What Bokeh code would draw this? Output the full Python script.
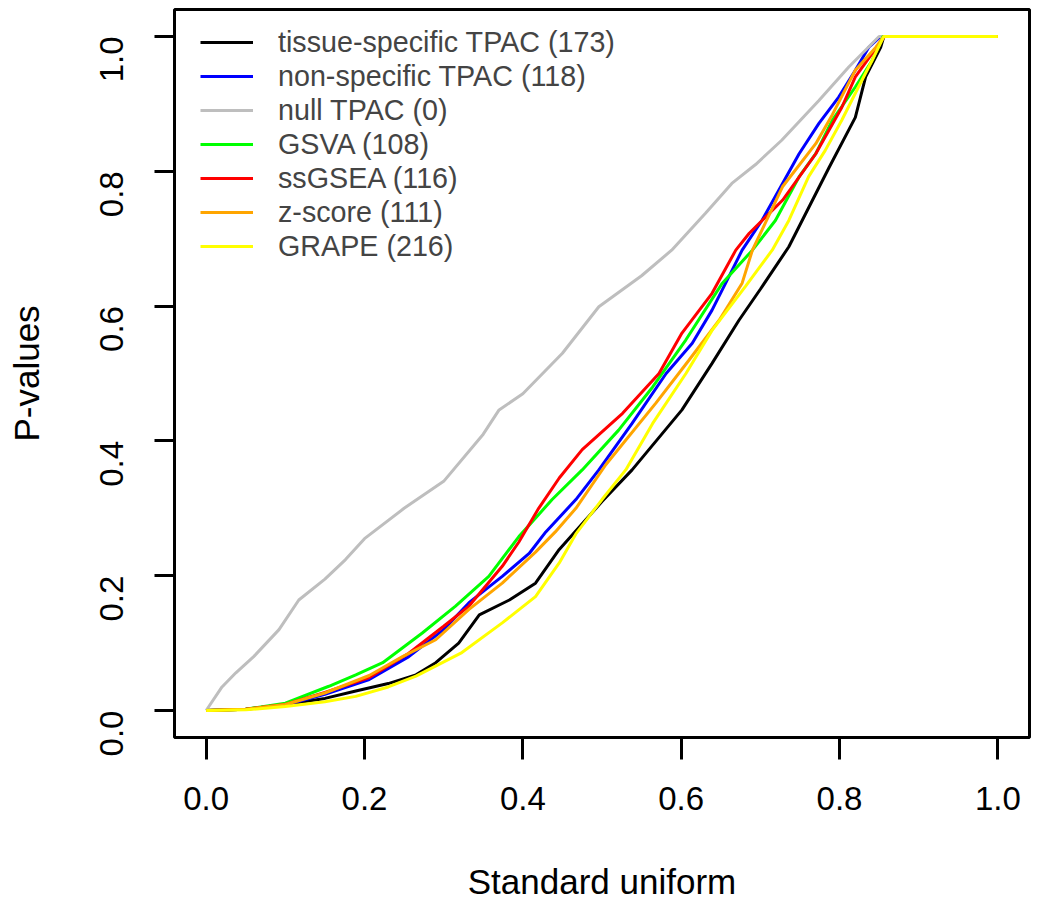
import math
from bokeh.plotting import figure
from bokeh.models import FixedTicker, Legend, LegendItem, Range1d
from bokeh.embed import file_html
from bokeh.resources import INLINE

# ---------------- data ----------------
series_names = ["tissue-specific TPAC (173)", "non-specific TPAC (118)", "null TPAC (0)",
                "GSVA (108)", "ssGSEA (116)", "z-score (111)", "GRAPE (216)"]
series_colors = ["#000000", "#0000FF", "#BEBEBE", "#00FF00", "#FF0000", "#FFA500", "#FFFF00"]

tissue_x = [0, 0.05, 0.1, 0.15, 0.189, 0.23, 0.265, 0.29, 0.319, 0.345, 0.383, 0.416, 0.446, 0.5,
            0.538, 0.601, 0.639, 0.673, 0.70, 0.736, 0.787, 0.82, 0.833, 0.852, 0.856, 1.0]
tissue_y = [0, 0.002, 0.009, 0.018, 0.029, 0.04, 0.053, 0.071, 0.1, 0.142, 0.164, 0.189, 0.239, 0.31,
            0.357, 0.446, 0.515, 0.579, 0.625, 0.688, 0.806, 0.88, 0.94, 0.984, 1.0, 1.0]

nonspec_x = [0, 0.05, 0.1, 0.15, 0.206, 0.256, 0.3, 0.332, 0.374, 0.408, 0.429, 0.467, 0.496, 0.538,
             0.581, 0.614, 0.639, 0.66, 0.677, 0.702, 0.749, 0.774, 0.799, 0.82, 0.837, 0.852, 1.0]
nonspec_y = [0, 0.002, 0.008, 0.024, 0.046, 0.08, 0.12, 0.16, 0.199, 0.233, 0.265, 0.313, 0.357, 0.426,
             0.5, 0.545, 0.594, 0.643, 0.683, 0.727, 0.826, 0.871, 0.91, 0.95, 0.984, 1.0, 1.0]

null_x = [0, 0.02, 0.0375, 0.06, 0.092, 0.117, 0.15, 0.176, 0.2, 0.25, 0.3, 0.35, 0.37, 0.4, 0.45,
          0.496, 0.55, 0.588, 0.631, 0.664, 0.694, 0.727, 0.774, 0.812, 0.85, 1.0]
null_y = [0, 0.035, 0.056, 0.08, 0.12, 0.164, 0.195, 0.224, 0.255, 0.3, 0.34, 0.41, 0.446, 0.47, 0.53,
          0.599, 0.645, 0.683, 0.738, 0.782, 0.81, 0.846, 0.905, 0.955, 1.0, 1.0]

gsva_x = [0, 0.05, 0.1, 0.155, 0.189, 0.223, 0.273, 0.315, 0.357, 0.395, 0.437, 0.475, 0.521, 0.564,
          0.606, 0.652, 0.69, 0.719, 0.749, 0.77, 0.791, 0.82, 0.841, 0.855, 1.0]
gsva_y = [0, 0.002, 0.011, 0.036, 0.053, 0.071, 0.115, 0.155, 0.199, 0.258, 0.313, 0.357, 0.416, 0.48,
          0.55, 0.634, 0.683, 0.727, 0.792, 0.826, 0.876, 0.925, 0.964, 1.0, 1.0]

ssgsea_x = [0, 0.05, 0.1, 0.15, 0.206, 0.256, 0.3, 0.332, 0.374, 0.395, 0.42, 0.446, 0.475, 0.526,
            0.572, 0.601, 0.639, 0.669, 0.686, 0.728, 0.77, 0.803, 0.82, 0.85, 0.857, 1.0]
ssgsea_y = [0, 0.002, 0.009, 0.027, 0.049, 0.085, 0.125, 0.155, 0.214, 0.25, 0.30, 0.345, 0.387, 0.441,
            0.5, 0.56, 0.619, 0.683, 0.708, 0.757, 0.826, 0.895, 0.94, 0.989, 1.0, 1.0]

zscore_x = [0, 0.05, 0.1, 0.15, 0.206, 0.248, 0.29, 0.332, 0.374, 0.416, 0.441, 0.467, 0.505, 0.568,
            0.61, 0.648, 0.677, 0.69, 0.728, 0.77, 0.791, 0.82, 0.846, 0.856, 1.0]
zscore_y = [0, 0.002, 0.009, 0.026, 0.052, 0.08, 0.105, 0.15, 0.189, 0.235, 0.265, 0.3, 0.365, 0.456,
            0.52, 0.579, 0.634, 0.683, 0.777, 0.841, 0.884, 0.95, 0.984, 1.0, 1.0]

grape_x = [0, 0.05, 0.1, 0.15, 0.189, 0.23, 0.265, 0.323, 0.374, 0.416, 0.446, 0.467, 0.5, 0.53,
           0.564, 0.606, 0.639, 0.681, 0.715, 0.736, 0.761, 0.782, 0.803, 0.824, 0.841, 0.856, 1.0]
grape_y = [0, 0.001, 0.006, 0.013, 0.021, 0.035, 0.051, 0.086, 0.13, 0.169, 0.219, 0.262, 0.313, 0.357,
           0.426, 0.5, 0.564, 0.629, 0.683, 0.727, 0.792, 0.831, 0.876, 0.925, 0.964, 1.0, 1.0]

tick_values = [0.0, 0.2, 0.4, 0.6, 0.8, 1.0]
tick_labels = ["0.0", "0.2", "0.4", "0.6", "0.8", "1.0"]
x_title = "Standard uniform"
y_title = "P-values"

series_x = [tissue_x, nonspec_x, null_x, gsva_x, ssgsea_x, zscore_x, grape_x]
series_y = [tissue_y, nonspec_y, null_y, gsva_y, ssgsea_y, zscore_y, grape_y]

# ---------------- figure ----------------
FONT = "Liberation Sans"
p = figure(width=1037, height=903, output_backend="svg", toolbar_location=None,
           x_range=Range1d(-0.04, 1.04), y_range=Range1d(-0.04, 1.04),
           min_border_left=174, min_border_right=8, min_border_top=9, min_border_bottom=165,
           x_axis_label=x_title, y_axis_label=y_title)

p.xgrid.visible = False
p.ygrid.visible = False
p.outline_line_color = "black"
p.outline_line_width = 3
p.background_fill_color = "white"
p.border_fill_color = "white"

overrides = {v: l for v, l in zip(tick_values, tick_labels)}
for ax in (p.xaxis[0], p.yaxis[0]):
    ax.ticker = FixedTicker(ticks=tick_values)
    ax.major_label_overrides = overrides
    ax.axis_line_color = None
    ax.major_tick_line_width = 3
    ax.major_tick_line_color = "black"
    ax.major_tick_in = 0
    ax.minor_tick_line_color = None
    ax.major_label_text_font = FONT
    ax.major_label_text_font_size = "33px"
    ax.major_label_text_color = "black"
    ax.axis_label_text_font = FONT
    ax.axis_label_text_font_size = "35px"
    ax.axis_label_text_font_style = "normal"
    ax.axis_label_text_color = "black"

p.xaxis[0].major_tick_out = 22
p.xaxis[0].major_label_standoff = 27
p.xaxis[0].axis_label_standoff = 49

p.yaxis[0].major_tick_out = 20
p.yaxis[0].major_label_orientation = math.pi / 2
p.yaxis[0].major_label_standoff = 43
p.yaxis[0].axis_label_standoff = 40

items = []
for name, color, xs, ys in zip(series_names, series_colors, series_x, series_y):
    r = p.line(xs, ys, line_color=color, line_width=3)
    items.append(LegendItem(label=name, renderers=[r]))

legend = Legend(items=items, location=(26, 474), orientation="vertical",
                border_line_color=None, background_fill_alpha=0,
                label_text_font=FONT, label_text_font_size="28.7px",
                glyph_width=53, glyph_height=34, label_height=34, label_standoff=25,
                spacing=0, padding=0, margin=0)
p.add_layout(legend, "center")

open("out.html", "w").write(file_html(p, INLINE))
